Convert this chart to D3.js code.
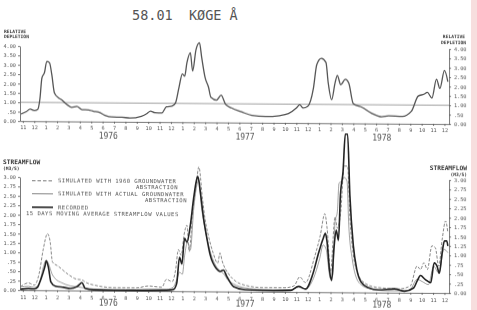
<!DOCTYPE html>
<html>
<head>
<meta charset="utf-8">
<script src="https://cdn.jsdelivr.net/npm/d3@7"></script>
<style>
  html, body { margin: 0; padding: 0; background: #fff; }
  svg { display: block; }
  text { font-family: "DejaVu Sans Mono", monospace; fill: #4a4a4a; }
</style>
</head>
<body>
<div id="chart"></div>
<script>
// month labels, Nov 1975 .. Dec 1978 (index 0 = Nov 1975)
var monthLabels = ["11", "12",
  "1", "2", "3", "4", "5", "6", "7", "8", "9", "10", "11", "12",
  "1", "2", "3", "4", "5", "6", "7", "8", "9", "10", "11", "12",
  "1", "2", "3", "4", "5", "6", "7", "8", "9", "10", "11", "12"];
var yearLabels = ["1976", "1977", "1978"];
var yearPos = [7.5, 19.5, 31.5];

var depletionTicks = [0, 0.5, 1, 1.5, 2, 2.5, 3, 3.5, 4];
var flowTicks = [0, 0.25, 0.5, 0.75, 1, 1.25, 1.5, 1.75, 2, 2.25, 2.5, 2.75, 3];

// relative depletion [month index, value]
var depletion = [[-0.15, 0.38], [0.3, 0.5], [0.64, 0.64], [1.0, 0.56], [1.3, 0.62], [1.5, 1.2], [1.67, 2.3],
  [1.9, 2.6], [2.1, 3.19], [2.34, 3.12], [2.54, 2.49], [2.77, 1.52], [3.13, 1.25], [3.4, 1.15], [3.7, 0.98],
  [4.3, 0.75], [4.74, 0.8], [5.2, 0.63], [5.76, 0.62], [6.2, 0.55], [6.64, 0.51], [7.2, 0.34], [7.8, 0.25],
  [8.7, 0.24], [9.4, 0.2], [10.4, 0.3], [10.9, 0.45], [11.2, 0.58], [11.6, 0.49], [12.2, 0.48], [12.6, 0.81],
  [13.1, 0.85], [13.4, 1.03], [13.7, 1.84], [14.0, 2.58], [14.2, 2.45], [14.4, 3.17], [14.7, 3.71], [14.9, 2.73],
  [15.2, 3.88], [15.5, 4.24], [15.7, 3.44], [16.0, 2.37], [16.3, 1.86], [16.5, 1.34], [17.0, 1.19], [17.4, 1.45],
  [17.8, 0.96], [18.3, 0.78], [19.2, 0.57], [20.1, 0.39], [21.3, 0.33], [22.5, 0.38], [23.3, 0.49], [24.0, 0.79],
  [24.3, 0.97], [24.6, 0.8], [25.0, 0.89], [25.5, 1.86], [25.8, 3.13], [26.2, 3.45], [26.6, 3.24], [26.8, 2.15],
  [27.1, 1.25], [27.4, 2.15], [27.6, 2.55], [27.9, 2.05], [28.3, 2.35], [28.6, 2.15], [29.0, 1.05], [29.8, 0.85],
  [30.6, 0.55], [31.5, 0.36], [32.1, 0.41], [33.3, 0.39], [34.1, 0.67], [34.7, 1.48], [35.2, 1.58], [35.5, 1.68],
  [35.9, 1.38], [36.3, 2.39], [36.6, 1.89], [37.0, 2.85], [37.3, 2.25]];

// streamflow m3/s, simulated with 1960 groundwater abstraction
var sim1960 = [[-0.2, 0.09], [0.5, 0.19], [1.0, 0.13], [1.43, 0.44], [1.8, 1.1], [2.16, 1.5], [2.4, 1.28],
  [2.6, 0.75], [3.1, 0.64], [4.0, 0.42], [4.7, 0.3], [5.2, 0.28], [5.5, 0.22], [6.35, 0.14], [8.1, 0.08],
  [10.0, 0.08], [11.0, 0.13], [12.2, 0.1], [12.6, 0.31], [13.1, 0.25], [13.4, 0.55], [13.65, 1.1], [13.9, 0.95],
  [14.15, 1.5], [14.4, 1.75], [14.6, 1.05], [14.9, 2.1], [15.2, 2.8], [15.45, 3.3], [15.75, 2.5], [16.0, 1.9],
  [16.3, 1.46], [16.7, 1.02], [17.1, 0.75], [17.3, 1.02], [17.5, 0.8], [18.1, 0.45], [18.7, 0.27], [19.5, 0.17],
  [21.0, 0.11], [23.0, 0.11], [23.8, 0.16], [24.3, 0.4], [24.8, 0.25], [25.6, 0.93], [26.1, 1.5], [26.5, 2.08],
  [26.7, 1.7], [27.0, 0.55], [27.4, 2.0], [27.6, 1.7], [27.9, 2.14], [28.2, 3.35], [28.5, 3.35], [28.7, 2.0],
  [29.0, 1.0], [29.4, 0.5], [30.0, 0.25], [31.0, 0.14], [33.0, 0.1], [34.0, 0.18], [34.6, 0.71], [34.9, 0.62],
  [35.2, 0.8], [35.5, 0.62], [35.9, 1.25], [36.2, 1.2], [36.5, 0.71], [36.8, 1.42], [37.1, 1.91], [37.3, 1.6]];

// simulated with actual groundwater abstraction
var simActual = [[-0.2, 0.08], [0.5, 0.1], [1.0, 0.07], [1.3, 0.12], [1.52, 0.25], [1.8, 0.62], [2.05, 0.8],
  [2.25, 0.71], [2.55, 0.44], [2.84, 0.31], [3.42, 0.2], [4.15, 0.12], [4.9, 0.09], [6.2, 0.04], [8.0, 0.03],
  [10.0, 0.04], [11.0, 0.05], [12.64, 0.05], [13.2, 0.1], [13.5, 0.3], [13.75, 0.5], [14.0, 0.45], [14.2, 0.95],
  [14.45, 1.3], [14.7, 1.1], [15.0, 2.2], [15.3, 2.85], [15.45, 2.95], [15.65, 2.3], [15.9, 1.8], [16.2, 1.35],
  [16.5, 1.0], [17.0, 0.65], [17.3, 0.55], [17.6, 0.48], [18.0, 0.3], [18.5, 0.2], [19.5, 0.1], [21.0, 0.06],
  [23.5, 0.06], [24.2, 0.12], [24.8, 0.08], [25.5, 0.36], [26.05, 0.89], [26.35, 1.25], [26.6, 1.16], [27.0, 0.36],
  [27.2, 0.45], [27.4, 1.87], [27.6, 2.14], [27.75, 2.9], [28.0, 2.95], [28.2, 3.05], [28.45, 2.95], [28.6, 1.8],
  [28.9, 0.9], [29.2, 0.45], [29.7, 0.2], [30.5, 0.1], [32.0, 0.05], [33.5, 0.05], [34.0, 0.09], [34.6, 0.36],
  [35.05, 0.3], [35.6, 0.22], [36.05, 0.71], [36.5, 0.53], [36.95, 1.16], [37.3, 1.07]];

// recorded, 15 days moving average
var recorded = [[-0.2, 0.02], [0.5, 0.04], [1.0, 0.03], [1.3, 0.08], [1.46, 0.19], [1.75, 0.44], [1.96, 0.66],
  [2.05, 0.78], [2.25, 0.6], [2.46, 0.22], [2.84, 0.11], [3.57, 0.08], [4.15, 0.05], [4.74, 0.1], [5.05, 0.18],
  [5.18, 0.21], [5.47, 0.06], [6.2, 0.02], [8.0, 0.01], [10.0, 0.01], [12.64, 0.02], [13.2, 0.04], [13.5, 0.2],
  [13.75, 0.9], [13.96, 0.72], [14.19, 1.4], [14.4, 1.3], [14.7, 1.75], [14.98, 2.45], [15.28, 3.0], [15.36, 3.05],
  [15.57, 2.65], [15.86, 1.94], [16.15, 1.41], [16.44, 0.97], [17.0, 0.6], [17.3, 0.53], [17.6, 0.57], [17.9, 0.4],
  [18.5, 0.13], [19.5, 0.05], [22.0, 0.03], [23.5, 0.04], [24.2, 0.15], [24.8, 0.08], [25.5, 0.53], [25.9, 0.98],
  [26.35, 1.42], [26.55, 1.56], [26.7, 1.33], [26.9, 0.62], [27.1, 0.31], [27.3, 1.16], [27.5, 1.65], [27.7, 1.38],
  [27.87, 2.58], [28.1, 3.2], [28.3, 4.2], [28.5, 4.2], [28.7, 2.58], [29.0, 1.25], [29.3, 0.62], [29.7, 0.27],
  [30.3, 0.13], [31.2, 0.07], [32.6, 0.1], [33.5, 0.04], [34.3, 0.13], [34.6, 0.31], [34.9, 0.46], [35.3, 0.36],
  [35.8, 0.27], [36.1, 0.8], [36.35, 0.71], [36.55, 0.52], [36.8, 1.07], [37.0, 1.38], [37.2, 1.38], [37.3, 1.25]];

var legendItems = [
  { lines: ["SIMULATED WITH 1960 GROUNDWATER", "ABSTRACTION"], style: "dash" },
  { lines: ["SIMULATED WITH ACTUAL GROUNDWATER", "ABSTRACTION"], style: "thin" },
  { lines: ["RECORDED", "15 DAYS MOVING AVERAGE STREAMFLOW VALUES"], style: "thick" }
];

var W = 477, H = 310;
var svg = d3.select("#chart").append("svg").attr("width", W).attr("height", H);

svg.append("rect").attr("width", W).attr("height", H).attr("fill", "#fff");
svg.append("rect").attr("x", 471).attr("width", 6).attr("height", H).attr("fill", "#f7dede");

var defs = svg.append("defs");
defs.append("filter").attr("id", "soft")
  .append("feGaussianBlur").attr("stdDeviation", 0.3);

// title
svg.append("text").attr("x", 132).attr("y", 20)
  .style("font-size", "13.5px").style("fill", "#555")
  .attr("xml:space", "preserve")
  .text("58.01  KØGE Å");

// scanned page is slightly tilted
var g = svg.append("g").attr("transform", "skewY(0.4)").attr("filter", "url(#soft)");

var x = d3.scaleLinear().domain([-0.25, 37.4]).range([20, 449]);
var yTop = d3.scaleLinear().domain([0, 4]).range([120.9, 45.9]);
var yBot = d3.scaleLinear().domain([0, 3]).range([289.9, 176.9]);

var fmt = function(v) {
  if (v === 0) return "0.00";
  var s = v.toFixed(2);
  return v < 1 ? s.slice(1) : s;
};

function styleAxis(sel, fs) {
  sel.selectAll("path, line").attr("stroke", "#555").attr("stroke-width", 0.8);
  sel.selectAll("text").style("font-size", fs + "px").style("fill", "#555").attr("font-family", null);
}

function drawAxes(y, ticks, y0, pad, yearDy) {
  g.append("g").attr("transform", "translate(20,0)")
    .call(d3.axisLeft(y).tickValues(ticks).tickFormat(fmt).tickSize(2).tickSizeOuter(0).tickPadding(2))
    .call(styleAxis, 5.2);
  g.append("g").attr("transform", "translate(449,0)")
    .call(d3.axisRight(y).tickValues(ticks).tickFormat(fmt).tickSize(2).tickSizeOuter(0).tickPadding(3))
    .call(styleAxis, 5.2);
  g.append("g").attr("transform", "translate(0," + y0 + ")")
    .call(d3.axisBottom(x).tickValues(d3.range(monthLabels.length))
      .tickFormat(function(i) { return monthLabels[i]; })
      .tickSize(2).tickSizeOuter(0).tickPadding(pad))
    .call(styleAxis, 5.2);
  g.selectAll(null).data(yearLabels).enter().append("text")
    .attr("x", function(d, i) { return x(yearPos[i]); })
    .attr("y", y0 + yearDy)
    .attr("text-anchor", "middle")
    .style("font-size", "8px").style("fill", "#555")
    .text(function(d) { return d; });
}

drawAxes(yTop, depletionTicks, yTop(0), 2.5, 17);
drawAxes(yBot, flowTicks, yBot(0), 3, 15.5);

// axis titles
function label(xp, yp, txt, anchor, fs) {
  g.append("text").attr("x", xp).attr("y", yp).attr("text-anchor", anchor)
    .style("font-size", fs + "px").style("font-weight", "bold").style("fill", "#333")
    .text(txt);
}
label(4, 33, "RELATIVE", "start", 4.6);
label(4, 38.5, "DEPLETION", "start", 4.6);
label(465, 35.5, "RELATIVE", "end", 4.6);
label(466, 41, "DEPLETION", "end", 4.6);
label(3, 164, "STREAMFLOW", "start", 6.2);
label(3, 170, "(M3/S)", "start", 4.6);
label(467, 167.5, "STREAMFLOW", "end", 6.2);
label(467, 173, "(M3/S)", "end", 4.6);

// 1.0 reference line in top panel
g.append("line")
  .attr("x1", x.range()[0]).attr("x2", x.range()[1])
  .attr("y1", yTop(1)).attr("y2", yTop(1))
  .attr("stroke", "#777").attr("stroke-width", 0.7);

var lineTop = d3.line().curve(d3.curveMonotoneX)
  .x(function(d) { return x(d[0]); }).y(function(d) { return yTop(d[1]); });
var lineBot = d3.line().curve(d3.curveMonotoneX)
  .x(function(d) { return x(d[0]); }).y(function(d) { return yBot(d[1]); });

g.append("path").datum(depletion).attr("d", lineTop)
  .attr("fill", "none").attr("stroke", "#555").attr("stroke-width", 1.3);

g.append("path").datum(sim1960).attr("d", lineBot)
  .attr("fill", "none").attr("stroke", "#666").attr("stroke-width", 0.8).attr("stroke-dasharray", "3,1.6");
g.append("path").datum(simActual).attr("d", lineBot)
  .attr("fill", "none").attr("stroke", "#888").attr("stroke-width", 0.8);
g.append("path").datum(recorded).attr("d", lineBot)
  .attr("fill", "none").attr("stroke", "#222").attr("stroke-width", 1.6);

// legend
var legY = [180.5, 193.5, 207];
var leg = g.append("g");
legendItems.forEach(function(item, i) {
  var ly = legY[i];
  var ln = leg.append("line").attr("x1", 32).attr("x2", 53).attr("y1", ly).attr("y2", ly)
    .attr("fill", "none");
  if (item.style === "dash") ln.attr("stroke", "#555").attr("stroke-width", 0.8).attr("stroke-dasharray", "3.5,2");
  else if (item.style === "thin") ln.attr("stroke", "#666").attr("stroke-width", 0.8);
  else ln.attr("stroke", "#222").attr("stroke-width", 1.6);
  leg.append("text").attr("x", 58).attr("y", ly + 2)
    .style("font-size", "5.6px").style("letter-spacing", "0.45px").style("fill", "#555")
    .text(item.lines[0]);
  var t2 = leg.append("text").style("font-size", "5.6px").style("letter-spacing", "0.45px")
    .style("fill", "#555").text(item.lines[1]);
  if (i < 2) t2.attr("x", i === 0 ? 178 : 187).attr("y", ly + 8).attr("text-anchor", "end");
  else t2.attr("x", 26).attr("y", ly + 8);
});
</script>
</body>
</html>
